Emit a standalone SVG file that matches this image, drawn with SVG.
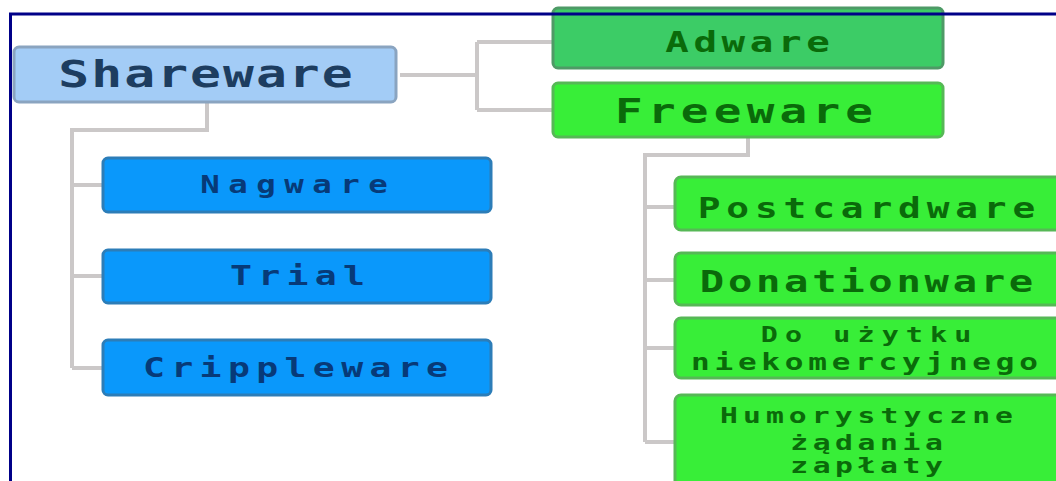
<svg xmlns="http://www.w3.org/2000/svg" width="1056" height="481" viewBox="0 0 1056 481">
<style>
.conn{fill:none;stroke:#cbc8c8;stroke-width:4}
.t{font-family:"DejaVu Sans Mono","Liberation Mono",monospace;font-weight:bold;text-anchor:middle}
.blue{fill:#0a98fb;stroke:#2c7db8;stroke-width:3}
.sh{fill:#a3ccf6;stroke:#8aa4c0;stroke-width:3}
.ad{fill:#3ccc66;stroke:#4e9a66;stroke-width:3}
.gr{fill:#38ee38;stroke:#56b856;stroke-width:3}
.tb{fill:#073a78}
.ts{fill:#1d3d60}
.tg{fill:#0a6a0a}
</style>
<rect width="1056" height="481" fill="#ffffff"/>
<g id="connectors">
<path class="conn" d="M400 75 H477 M477 42 V110 M477 42 H553 M477 110 H553"/>
<path class="conn" d="M207 102 V130 H72 V368 M72 185 H103 M72 276 H103 M72 368 H103"/>
<path class="conn" d="M748 137 V155 H645 V442 M645 207 H675 M645 280 H675 M645 348 H675 M645 442 H675"/>
</g>
<g id="shareware"><rect class="sh" x="14" y="47" width="382" height="55" rx="5"/><text class="t ts" transform="translate(205.5 87) scale(1.35 1)" font-size="38" textLength="218" lengthAdjust="spacing">Shareware</text></g>
<g id="adware"><rect class="ad" x="553" y="8" width="390" height="60" rx="5"/><text class="t tg" transform="translate(747.5 52) scale(1.35 1)" font-size="29" textLength="122" lengthAdjust="spacing">Adware</text></g>
<g id="freeware"><rect class="gr" x="553" y="83" width="390" height="54" rx="5"/><text class="t tg" transform="translate(744 123) scale(1.35 1)" font-size="34" textLength="191" lengthAdjust="spacing">Freeware</text></g>
<g id="nagware"><rect class="blue" x="103" y="158" width="388" height="54" rx="5"/><text class="t tb" transform="translate(294 193) scale(1.35 1)" font-size="24" textLength="139" lengthAdjust="spacing">Nagware</text></g>
<g id="trial"><rect class="blue" x="103" y="250" width="388" height="53" rx="5"/><text class="t tb" transform="translate(297.5 285) scale(1.35 1)" font-size="27" textLength="100" lengthAdjust="spacing">Trial</text></g>
<g id="crippleware"><rect class="blue" x="103" y="340" width="388" height="55" rx="5"/><text class="t tb" transform="translate(295.5 377) scale(1.35 1)" font-size="27" textLength="226" lengthAdjust="spacing">Crippleware</text></g>
<g id="postcardware"><rect class="gr" x="675" y="177" width="400" height="53" rx="6"/><text class="t tg" transform="translate(866.5 218) scale(1.35 1)" font-size="28" textLength="250" lengthAdjust="spacing">Postcardware</text></g>
<g id="donationware"><rect class="gr" x="675" y="253" width="400" height="52" rx="6"/><text class="t tg" transform="translate(866.5 292) scale(1.35 1)" font-size="30" textLength="247" lengthAdjust="spacing">Donationware</text></g>
<g id="niekomercyjne"><rect class="gr" x="675" y="318" width="400" height="60" rx="6"/><text class="t tg" transform="translate(866 342) scale(1.35 1)" font-size="21" textLength="156" lengthAdjust="spacing">Do użytku</text><text class="t tg" transform="translate(864.5 370) scale(1.35 1)" font-size="23" textLength="257" lengthAdjust="spacing">niekomercyjnego</text></g>
<g id="humorystyczne"><rect class="gr" x="675" y="395" width="400" height="110" rx="6"/><text class="t tg" transform="translate(866.5 423) scale(1.35 1)" font-size="22" textLength="217" lengthAdjust="spacing">Humorystyczne</text><text class="t tg" transform="translate(866.5 450) scale(1.35 1)" font-size="22" textLength="113" lengthAdjust="spacing">żądania</text><text class="t tg" transform="translate(866.5 473) scale(1.35 1)" font-size="22" textLength="113" lengthAdjust="spacing">zapłaty</text></g>
<path d="M10.5 481 V14 H1056" fill="none" stroke="#000088" stroke-width="3"/>
</svg>
